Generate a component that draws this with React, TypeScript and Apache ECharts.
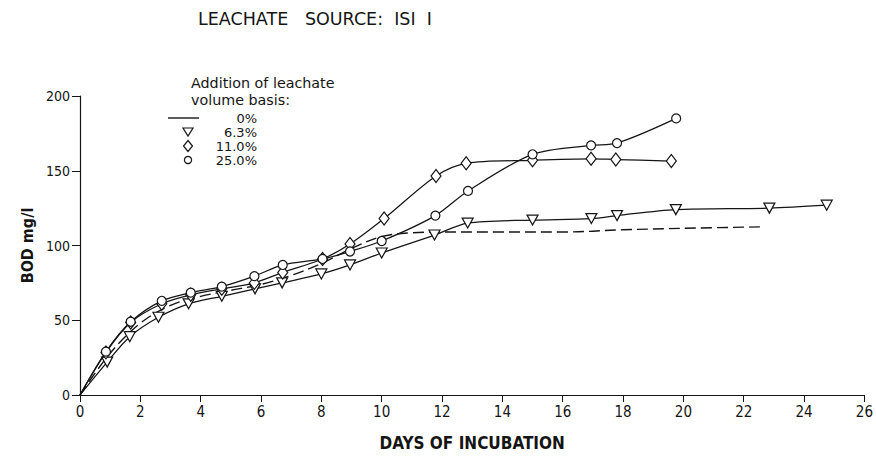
import React, { useEffect, useRef } from "react";
import * as echarts from "echarts";

const FONT = "'DejaVu Sans Condensed', 'Liberation Sans Narrow', 'DejaVu Sans', sans-serif";
const FONT_WIDE = "'DejaVu Sans', 'Liberation Sans', sans-serif";
const INK = "#151515";

const titleText = "LEACHATE   SOURCE:  ISI  I";
const xTitle = "DAYS OF INCUBATION";
const yTitle = "BOD mg/l";
const legendHead = ["Addition of leachate", "volume basis:"];
const seriesNames = ["0%", "6.3%", "11.0%", "25.0%"];

// 0 % (dashed line, no markers)
const days0 = [0, 1, 2, 3, 4, 5, 6, 7, 8, 9, 10, 11, 12, 14, 16, 18, 20, 22.7];
const bod0 = [0, 28, 48, 60, 66, 70, 74, 80, 88, 98, 106, 108.5, 109, 109, 109, 110.5, 111.5, 112.5];

// 6.3 % (triangles)
const days63 = [0, 0.9, 1.65, 2.6, 3.6, 4.7, 5.8, 6.7, 8.0, 8.95, 10.0, 11.75, 12.85, 15.0, 16.95, 17.8, 19.75, 22.85, 24.75];
const bod63 = [0, 22, 39, 52, 61, 66, 71, 75, 81, 87, 95, 107, 115, 117, 118, 120, 124, 125, 127];

// 11.0 % (diamonds)
const days11 = [0, 0.86, 1.68, 2.71, 3.67, 4.7, 5.78, 6.72, 8.04, 8.95, 10.08, 11.8, 12.8, 15.0, 16.94, 17.76, 19.6];
const bod11 = [0, 28.5, 48.5, 61, 67, 71, 75, 82, 91, 101, 118, 146.5, 155, 157, 158, 157.5, 156.5];

// 25.0 % (circles)
const days25 = [0, 0.86, 1.68, 2.71, 3.67, 4.7, 5.78, 6.72, 8.04, 8.95, 10.0, 11.78, 12.86, 15.0, 16.94, 17.8, 19.76];
const bod25 = [0, 29, 49, 63, 68.5, 72.5, 79.5, 87, 91, 96, 103, 120, 136.5, 161, 167, 168.5, 185];

const xTicks = { min: 0, max: 26, interval: 2 };
const yTicks = { min: 0, max: 200, interval: 50 };

function pts(xs: number[], ys: number[]) {
  return xs.map((x, i) =>
    x === 0 && ys[i] === 0 ? { value: [x, ys[i]], symbol: "none" } : { value: [x, ys[i]] }
  );
}

export default function App() {
  const ref = useRef<HTMLDivElement>(null);
  useEffect(() => {
    if (!ref.current) return;
    const chart = echarts.init(ref.current, undefined, { renderer: "svg" });
    const markerStyle = { color: "#ffffff", borderColor: INK, borderWidth: 1.2 };
    const lineBase = { color: INK, width: 1.25 };
    const lx = 188;
    const rows = [118, 132, 146, 160];
    chart.setOption({
      animation: false,
      backgroundColor: "#ffffff",
      grid: { left: 80, right: 9, top: 96, bottom: 66, containLabel: false },
      xAxis: {
        type: "value",
        ...xTicks,
        name: xTitle,
        nameLocation: "middle",
        nameGap: 39,
        nameTextStyle: { fontFamily: FONT, fontSize: 17, color: INK, fontWeight: "bold" },
        axisLine: { show: true, onZero: false, lineStyle: { color: INK, width: 1.2 } },
        axisTick: { show: true, inside: false, length: 7, lineStyle: { color: INK } },
        axisLabel: { fontFamily: FONT, fontSize: 15, color: INK, margin: 9 },
        splitLine: { show: false },
      },
      yAxis: {
        type: "value",
        ...yTicks,
        name: yTitle,
        nameLocation: "middle",
        nameGap: 41,
        nameRotate: 90,
        nameTextStyle: { fontFamily: FONT, fontSize: 16, color: INK, fontWeight: "bold" },
        axisLine: { show: true, onZero: false, lineStyle: { color: INK, width: 1.2 } },
        axisTick: { show: true, inside: false, length: 8, lineStyle: { color: INK } },
        axisLabel: { fontFamily: FONT, fontSize: 14, color: INK, margin: 10 },
        splitLine: { show: false },
      },
      series: [
        {
          name: seriesNames[0],
          type: "line",
          smooth: 0.35,
          showSymbol: false,
          symbol: "none",
          lineStyle: { ...lineBase, width: 1.4, type: [11, 5] },
          data: pts(days0, bod0),
          z: 1,
        },
        {
          name: seriesNames[1],
          type: "line",
          smooth: 0.3,
          symbol: "triangle",
          symbolRotate: 180,
          symbolSize: [11, 10],
          itemStyle: markerStyle,
          lineStyle: lineBase,
          data: pts(days63, bod63),
          z: 2,
        },
        {
          name: seriesNames[2],
          type: "line",
          smooth: 0.3,
          symbol: "diamond",
          symbolSize: [10, 13],
          itemStyle: markerStyle,
          lineStyle: lineBase,
          data: pts(days11, bod11),
          z: 3,
        },
        {
          name: seriesNames[3],
          type: "line",
          smooth: 0.3,
          symbol: "circle",
          symbolSize: 9,
          itemStyle: markerStyle,
          lineStyle: lineBase,
          data: pts(days25, bod25),
          z: 4,
        },
      ],
      graphic: [
        {
          type: "text",
          x: 198,
          y: 19,
          style: { text: titleText, fontFamily: FONT_WIDE, fontSize: 17.5, fill: INK, verticalAlign: "middle" },
        },
        {
          type: "text",
          x: 191,
          y: 83,
          style: { text: legendHead[0], fontFamily: FONT_WIDE, fontSize: 14.3, fill: INK, verticalAlign: "middle", lineHeight: 14 },
        },
        {
          type: "text",
          x: 191,
          y: 100,
          style: { text: legendHead[1], fontFamily: FONT_WIDE, fontSize: 14.3, fill: INK, verticalAlign: "middle", lineHeight: 14 },
        },
        {
          type: "line",
          shape: { x1: 168, y1: rows[0], x2: 199, y2: rows[0] },
          style: { stroke: INK, lineWidth: 1.4 },
        },
        {
          type: "polygon",
          shape: { points: [[lx - 5, rows[1] - 4], [lx + 5, rows[1] - 4], [lx, rows[1] + 4]] },
          style: { fill: "#fff", stroke: INK, lineWidth: 1.2 },
        },
        {
          type: "polygon",
          shape: { points: [[lx, rows[2] - 5.5], [lx + 4.5, rows[2]], [lx, rows[2] + 5.5], [lx - 4.5, rows[2]]] },
          style: { fill: "#fff", stroke: INK, lineWidth: 1.2 },
        },
        {
          type: "circle",
          shape: { cx: lx, cy: rows[3], r: 3.6 },
          style: { fill: "#fff", stroke: INK, lineWidth: 1.2 },
        },
        ...seriesNames.map((n, i) => ({
          type: "text",
          x: 257,
          y: rows[i],
          style: {
            text: n,
            fontFamily: FONT_WIDE,
            fontSize: 13,
            lineHeight: 12,
            fill: INK,
            align: "right",
            verticalAlign: "middle",
          },
        })),
      ],
    });
    return () => chart.dispose();
  }, []);
  return (
    <div
      ref={ref}
      style={{ position: "fixed", left: 0, top: 0, width: 876, height: 461 }}
    />
  );
}
